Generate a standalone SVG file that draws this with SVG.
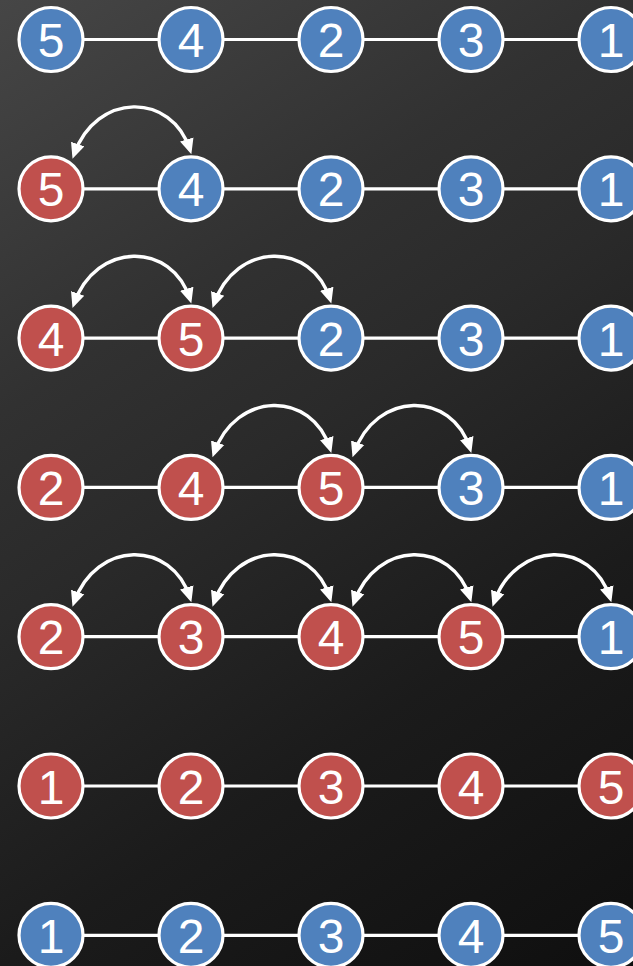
<svg xmlns="http://www.w3.org/2000/svg" width="633" height="966" viewBox="0 0 633 966">
<defs>
<linearGradient id="bg" gradientUnits="userSpaceOnUse" x1="0" y1="0" x2="633" y2="966">
<stop offset="0" stop-color="#464646"/>
<stop offset="0.3" stop-color="#313131"/>
<stop offset="0.45" stop-color="#2a2a2a"/>
<stop offset="0.7" stop-color="#1b1b1b"/>
<stop offset="1" stop-color="#0f0f0f"/>
</linearGradient>
<marker id="ah" markerUnits="userSpaceOnUse" markerWidth="16" markerHeight="15" refX="11" refY="7.5" orient="auto-start-reverse" viewBox="0 0 16 15">
<path d="M0,0.5 L15.5,7.5 L0,14.5 z" fill="#ffffff"/>
</marker>
</defs>
<style>
.n circle{stroke:#ffffff;stroke-width:3.2}
.b circle{fill:#4f81bd}
.r circle{fill:#c0504d}
.n text{font-family:"Liberation Sans",Arial,sans-serif;font-size:48px;fill:#ffffff;text-anchor:middle}
.e{stroke:#ffffff;stroke-width:3.2;fill:none}
.a{stroke:#ffffff;stroke-width:3.4;fill:none;marker-start:url(#ah);marker-end:url(#ah)}
</style>
<rect x="0" y="0" width="633" height="966" fill="url(#bg)"/>
<g id="connectors">
<line class="e" x1="51" y1="39.5" x2="633" y2="39.5"/>
<line class="e" x1="51" y1="188.8" x2="633" y2="188.8"/>
<line class="e" x1="51" y1="338.1" x2="633" y2="338.1"/>
<line class="e" x1="51" y1="487.4" x2="633" y2="487.4"/>
<line class="e" x1="51" y1="636.7" x2="633" y2="636.7"/>
<line class="e" x1="51" y1="786" x2="633" y2="786"/>
<line class="e" x1="51" y1="935.3" x2="633" y2="935.3"/>
<path class="a" d="M74,154.5 C96,91.8 172,91.8 190,150"/>
<path class="a" d="M74,303.8 C96,241.1 172,241.1 190,299.3"/>
<path class="a" d="M214,303.8 C236,241.1 312,241.1 330,299.3"/>
<path class="a" d="M214,453.1 C236,390.4 312,390.4 330,448.6"/>
<path class="a" d="M354,453.1 C376,390.4 452,390.4 470,448.6"/>
<path class="a" d="M74,602.4 C96,539.7 172,539.7 190,597.9"/>
<path class="a" d="M214,602.4 C236,539.7 312,539.7 330,597.9"/>
<path class="a" d="M354,602.4 C376,539.7 452,539.7 470,597.9"/>
<path class="a" d="M494,602.4 C516,539.7 592,539.7 610,597.9"/>
</g>
<g id="r0">
<g id="n0_0" class="n b"><circle cx="51" cy="39.5" r="32"/><text x="51" y="57">5</text></g>
<g id="n0_1" class="n b"><circle cx="191" cy="39.5" r="32"/><text x="191" y="57">4</text></g>
<g id="n0_2" class="n b"><circle cx="331" cy="39.5" r="32"/><text x="331" y="57">2</text></g>
<g id="n0_3" class="n b"><circle cx="471" cy="39.5" r="32"/><text x="471" y="57">3</text></g>
<g id="n0_4" class="n b"><circle cx="611" cy="39.5" r="32"/><text x="611" y="57">1</text></g>
</g>
<g id="r1">
<g id="n1_0" class="n r"><circle cx="51" cy="188.8" r="32"/><text x="51" y="206.3">5</text></g>
<g id="n1_1" class="n b"><circle cx="191" cy="188.8" r="32"/><text x="191" y="206.3">4</text></g>
<g id="n1_2" class="n b"><circle cx="331" cy="188.8" r="32"/><text x="331" y="206.3">2</text></g>
<g id="n1_3" class="n b"><circle cx="471" cy="188.8" r="32"/><text x="471" y="206.3">3</text></g>
<g id="n1_4" class="n b"><circle cx="611" cy="188.8" r="32"/><text x="611" y="206.3">1</text></g>
</g>
<g id="r2">
<g id="n2_0" class="n r"><circle cx="51" cy="338.1" r="32"/><text x="51" y="355.6">4</text></g>
<g id="n2_1" class="n r"><circle cx="191" cy="338.1" r="32"/><text x="191" y="355.6">5</text></g>
<g id="n2_2" class="n b"><circle cx="331" cy="338.1" r="32"/><text x="331" y="355.6">2</text></g>
<g id="n2_3" class="n b"><circle cx="471" cy="338.1" r="32"/><text x="471" y="355.6">3</text></g>
<g id="n2_4" class="n b"><circle cx="611" cy="338.1" r="32"/><text x="611" y="355.6">1</text></g>
</g>
<g id="r3">
<g id="n3_0" class="n r"><circle cx="51" cy="487.4" r="32"/><text x="51" y="504.9">2</text></g>
<g id="n3_1" class="n r"><circle cx="191" cy="487.4" r="32"/><text x="191" y="504.9">4</text></g>
<g id="n3_2" class="n r"><circle cx="331" cy="487.4" r="32"/><text x="331" y="504.9">5</text></g>
<g id="n3_3" class="n b"><circle cx="471" cy="487.4" r="32"/><text x="471" y="504.9">3</text></g>
<g id="n3_4" class="n b"><circle cx="611" cy="487.4" r="32"/><text x="611" y="504.9">1</text></g>
</g>
<g id="r4">
<g id="n4_0" class="n r"><circle cx="51" cy="636.7" r="32"/><text x="51" y="654.2">2</text></g>
<g id="n4_1" class="n r"><circle cx="191" cy="636.7" r="32"/><text x="191" y="654.2">3</text></g>
<g id="n4_2" class="n r"><circle cx="331" cy="636.7" r="32"/><text x="331" y="654.2">4</text></g>
<g id="n4_3" class="n r"><circle cx="471" cy="636.7" r="32"/><text x="471" y="654.2">5</text></g>
<g id="n4_4" class="n b"><circle cx="611" cy="636.7" r="32"/><text x="611" y="654.2">1</text></g>
</g>
<g id="r5">
<g id="n5_0" class="n r"><circle cx="51" cy="786" r="32"/><text x="51" y="803.5">1</text></g>
<g id="n5_1" class="n r"><circle cx="191" cy="786" r="32"/><text x="191" y="803.5">2</text></g>
<g id="n5_2" class="n r"><circle cx="331" cy="786" r="32"/><text x="331" y="803.5">3</text></g>
<g id="n5_3" class="n r"><circle cx="471" cy="786" r="32"/><text x="471" y="803.5">4</text></g>
<g id="n5_4" class="n r"><circle cx="611" cy="786" r="32"/><text x="611" y="803.5">5</text></g>
</g>
<g id="r6">
<g id="n6_0" class="n b"><circle cx="51" cy="935.3" r="32"/><text x="51" y="952.8">1</text></g>
<g id="n6_1" class="n b"><circle cx="191" cy="935.3" r="32"/><text x="191" y="952.8">2</text></g>
<g id="n6_2" class="n b"><circle cx="331" cy="935.3" r="32"/><text x="331" y="952.8">3</text></g>
<g id="n6_3" class="n b"><circle cx="471" cy="935.3" r="32"/><text x="471" y="952.8">4</text></g>
<g id="n6_4" class="n b"><circle cx="611" cy="935.3" r="32"/><text x="611" y="952.8">5</text></g>
</g>
</svg>
